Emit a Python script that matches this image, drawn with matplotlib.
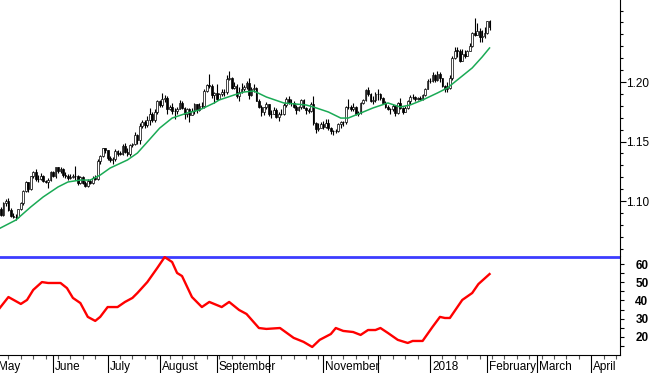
import numpy as np
import pandas as pd
import matplotlib
matplotlib.use('Agg')
import matplotlib.pyplot as plt
from matplotlib.transforms import blended_transform_factory

plt.rcParams['font.family'] = ['Liberation Sans', 'DejaVu Sans']

# daily bars, one per weekday from 2 May 2017 to 2 Feb 2018 (open = previous close)
first_open = 1.0899
closes = [
    # May
    1.0930, 1.0883, 1.0985, 1.0998, 1.0926, 1.0874, 1.0866, 1.0862, 1.0933, 1.0982, 1.1086,
    1.1158, 1.1101, 1.1206, 1.1243, 1.1183, 1.1184, 1.1211, 1.1164, 1.1163, 1.1176, 1.1242,
    # June
    1.1214, 1.1282, 1.1250, 1.1272, 1.1216, 1.1212, 1.1196, 1.1200, 1.1211, 1.1214, 1.1152,
    1.1198, 1.1150, 1.1130, 1.1167, 1.1150, 1.1196, 1.1187, 1.1338, 1.1375, 1.1442, 1.1426,
    # July
    1.1363, 1.1348, 1.1353, 1.1423, 1.1398, 1.1397, 1.1462, 1.1410, 1.1398, 1.1470, 1.1477,
    1.1556, 1.1516, 1.1633, 1.1665, 1.1642, 1.1684, 1.1733, 1.1677, 1.1750, 1.1843,
    # August
    1.1803, 1.1860, 1.1867, 1.1774, 1.1792, 1.1756, 1.1760, 1.1775, 1.1822, 1.1780, 1.1728,
    1.1772, 1.1724, 1.1760, 1.1812, 1.1762, 1.1797, 1.1799, 1.1923, 1.1979, 1.1970, 1.1888, 1.1910,
    # September
    1.1860, 1.1899, 1.1916, 1.1916, 1.2025, 1.2036, 1.1953, 1.1967, 1.1884, 1.1918, 1.1944,
    1.1955, 1.1992, 1.1891, 1.1941, 1.1950, 1.1844, 1.1793, 1.1747, 1.1786, 1.1814,
    # October
    1.1731, 1.1734, 1.1764, 1.1710, 1.1731, 1.1734, 1.1805, 1.1861, 1.1825, 1.1822, 1.1794,
    1.1767, 1.1787, 1.1850, 1.1783, 1.1761, 1.1760, 1.1812, 1.1652, 1.1606, 1.1611, 1.1646,
    # November
    1.1620, 1.1656, 1.1610, 1.1590, 1.1585, 1.1591, 1.1644, 1.1665, 1.1662, 1.1794, 1.1790,
    1.1771, 1.1794, 1.1733, 1.1740, 1.1822, 1.1850, 1.1931, 1.1896, 1.1843, 1.1847, 1.1902,
    # December
    1.1895, 1.1863, 1.1825, 1.1793, 1.1774, 1.1772, 1.1800, 1.1741, 1.1827, 1.1779, 1.1747,
    1.1783, 1.1839, 1.1874, 1.1873, 1.1860, 1.1867, 1.1858, 1.1890, 1.1944, 1.2005,
    # January
    1.2010, 1.2059, 1.2016, 1.2067, 1.2030, 1.1968, 1.1938, 1.1951, 1.2034, 1.2200, 1.2264,
    1.2263, 1.2180, 1.2237, 1.2219, 1.2260, 1.2301, 1.2408, 1.2398, 1.2427, 1.2381, 1.2387, 1.2414,
    # February
    1.2510, 1.2460,
]
highs = [
    1.0950, 1.0950, 1.0990, 1.1020, 1.1023, 1.0940, 1.0897, 1.0888, 1.0937, 1.0989, 1.1096,
    1.1172, 1.1162, 1.1213, 1.1250, 1.1268, 1.1216, 1.1232, 1.1216, 1.1179, 1.1195, 1.1251,
    1.1255, 1.1285, 1.1286, 1.1285, 1.1275, 1.1245, 1.1230, 1.1225, 1.1230, 1.1296, 1.1216,
    1.1212, 1.1210, 1.1168, 1.1185, 1.1185, 1.1210, 1.1215, 1.1350, 1.1389, 1.1445, 1.1446,
    1.1430, 1.1375, 1.1368, 1.1440, 1.1429, 1.1423, 1.1480, 1.1490, 1.1442, 1.1480, 1.1488,
    1.1583, 1.1562, 1.1658, 1.1683, 1.1680, 1.1712, 1.1778, 1.1745, 1.1776, 1.1846,
    1.1845, 1.1910, 1.1893, 1.1880, 1.1808, 1.1825, 1.1778, 1.1790, 1.1845, 1.1842, 1.1790,
    1.1780, 1.1778, 1.1780, 1.1821, 1.1818, 1.1820, 1.1830, 1.1940, 1.1983, 1.2070, 1.1980, 1.1918,
    1.1980, 1.1908, 1.1940, 1.1945, 1.2060, 1.2092, 1.2040, 1.1997, 1.1985, 1.1960, 1.1990,
    1.1975, 1.2005, 1.2035, 1.1960, 1.1985, 1.1955, 1.1855, 1.1810, 1.1790, 1.1832,
    1.1815, 1.1762, 1.1792, 1.1778, 1.1750, 1.1769, 1.1825, 1.1875, 1.1880, 1.1860, 1.1840,
    1.1808, 1.1799, 1.1860, 1.1860, 1.1790, 1.1785, 1.1830, 1.1880, 1.1660, 1.1655, 1.1667,
    1.1675, 1.1687, 1.1685, 1.1622, 1.1600, 1.1603, 1.1655, 1.1670, 1.1672, 1.1800, 1.1860,
    1.1808, 1.1820, 1.1795, 1.1760, 1.1836, 1.1860, 1.1940, 1.1960, 1.1905, 1.1880, 1.1915,
    1.1940, 1.1905, 1.1875, 1.1840, 1.1810, 1.1785, 1.1815, 1.1805, 1.1830, 1.1862, 1.1790,
    1.1800, 1.1845, 1.1890, 1.1900, 1.1885, 1.1875, 1.1880, 1.1900, 1.1950, 1.2025,
    1.2030, 1.2080, 1.2065, 1.2089, 1.2085, 1.2035, 1.1975, 1.2000, 1.2060, 1.2215, 1.2296,
    1.2295, 1.2280, 1.2275, 1.2270, 1.2265, 1.2325, 1.2420, 1.2537, 1.2495, 1.2450, 1.2440, 1.2460,
    1.2515, 1.2520,
]
lows = [
    1.0880, 1.0872, 1.0870, 1.0960, 1.0918, 1.0866, 1.0860, 1.0838, 1.0855, 1.0925, 1.0970,
    1.1075, 1.1074, 1.1095, 1.1195, 1.1166, 1.1160, 1.1177, 1.1160, 1.1151, 1.1110, 1.1165,
    1.1205, 1.1195, 1.1238, 1.1238, 1.1205, 1.1195, 1.1180, 1.1182, 1.1195, 1.1180, 1.1132,
    1.1145, 1.1145, 1.1120, 1.1118, 1.1140, 1.1145, 1.1180, 1.1178, 1.1315, 1.1370, 1.1405,
    1.1345, 1.1330, 1.1312, 1.1340, 1.1375, 1.1385, 1.1384, 1.1400, 1.1380, 1.1380, 1.1455,
    1.1470, 1.1479, 1.1480, 1.1615, 1.1612, 1.1620, 1.1640, 1.1660, 1.1667, 1.1730,
    1.1790, 1.1790, 1.1828, 1.1729, 1.1765, 1.1730, 1.1688, 1.1728, 1.1770, 1.1775, 1.1688,
    1.1710, 1.1662, 1.1720, 1.1735, 1.1740, 1.1756, 1.1780, 1.1785, 1.1918, 1.1950, 1.1868, 1.1823,
    1.1850, 1.1855, 1.1880, 1.1885, 1.1900, 1.2020, 1.1945, 1.1945, 1.1866, 1.1838, 1.1905,
    1.1925, 1.1940, 1.1861, 1.1880, 1.1920, 1.1838, 1.1780, 1.1718, 1.1720, 1.1770,
    1.1716, 1.1696, 1.1730, 1.1700, 1.1669, 1.1720, 1.1720, 1.1790, 1.1815, 1.1800, 1.1785,
    1.1730, 1.1755, 1.1770, 1.1780, 1.1728, 1.1738, 1.1745, 1.1640, 1.1575, 1.1590, 1.1620,
    1.1608, 1.1615, 1.1600, 1.1560, 1.1553, 1.1570, 1.1580, 1.1617, 1.1630, 1.1650, 1.1775,
    1.1760, 1.1760, 1.1720, 1.1715, 1.1730, 1.1815, 1.1840, 1.1880, 1.1830, 1.1815, 1.1835,
    1.1845, 1.1845, 1.1820, 1.1780, 1.1765, 1.1730, 1.1760, 1.1718, 1.1730, 1.1770, 1.1730,
    1.1745, 1.1770, 1.1818, 1.1855, 1.1840, 1.1850, 1.1845, 1.1850, 1.1885, 1.1940,
    1.1995, 1.2000, 1.2000, 1.2010, 1.2000, 1.1955, 1.1915, 1.1918, 1.1945, 1.2020, 1.2195,
    1.2210, 1.2165, 1.2175, 1.2205, 1.2215, 1.2260, 1.2290, 1.2390, 1.2395, 1.2335, 1.2336, 1.2370,
    1.2400, 1.2436,
]

# moving average (green), read at bar positions
ma_pos = [1, 8, 14, 19, 25, 29, 34, 38, 42, 46, 53, 57, 61, 66, 71, 77, 82, 88, 90, 96,
          100, 104, 109, 116, 125, 128, 134, 139, 142, 147, 152, 158, 163, 167, 172, 178,
          182, 187, 192, 196, 199]
ma_val = [1.0765, 1.0840, 1.0950, 1.1034, 1.1118, 1.1160, 1.1176, 1.1176, 1.1218, 1.1277,
          1.1345, 1.1403, 1.1496, 1.1613, 1.1697, 1.1739, 1.1765, 1.1824, 1.1849, 1.1891,
          1.1916, 1.1924, 1.1874, 1.1824, 1.1807, 1.1790, 1.1748, 1.1697, 1.1697, 1.1739,
          1.1782, 1.1824, 1.1790, 1.1807, 1.1849, 1.1908, 1.1950, 1.2034, 1.2118, 1.2210, 1.2286]

# lower oscillator (red)
osc_pos = [1, 5, 10, 12.5, 15, 18.5, 21, 26, 28.6, 31, 34, 37, 40, 42, 45, 49, 52, 55, 57,
           61, 65, 68, 71, 73, 75, 79, 83, 86, 91, 94, 98, 101, 106, 109, 114.5, 120, 124,
           127.5, 130.5, 135, 137, 140, 144, 147, 150, 153, 155, 158, 162, 166, 168, 172,
           176, 179, 181, 183, 188, 192, 194.5, 199]
osc_val = [35.0, 41.9, 38.1, 40.3, 45.8, 50.1, 49.6, 49.6, 46.8, 41.4, 38.6, 31.0, 28.8,
           31.0, 36.4, 36.4, 39.2, 41.4, 44.1, 50.1, 57.8, 63.8, 61.1, 55.1, 53.4, 41.9,
           36.4, 39.2, 36.4, 39.2, 34.8, 32.6, 24.9, 24.4, 24.9, 19.5, 17.3, 14.5, 18.4,
           21.6, 24.9, 23.3, 22.7, 21.1, 23.8, 23.8, 24.9, 22.2, 18.4, 16.7, 17.8, 17.8,
           25.5, 31.0, 30.4, 30.4, 40.3, 44.1, 49.0, 54.5]
osc_level = 64

month_labels = ['May', 'June', 'July', 'August', 'September', '', 'November', '',
                '2018', 'February', 'March', 'April']

# trading-day axis
days = pd.bdate_range('2017-05-01', '2018-04-30')
month_start = [i for i in range(len(days)) if i == 0 or days[i].month != days[i - 1].month]
mondays = [i for i in range(len(days)) if days[i].dayofweek == 0]

x = np.arange(1, len(closes) + 1)
closes_a = np.array(closes)
opens_a = np.array([first_open] + closes[:-1])
highs_a = np.array(highs)
lows_a = np.array(lows)

fig = plt.figure(figsize=(6.5, 3.73), dpi=100)
ax1 = fig.add_axes([0, 1 - 256 / 373, 620 / 650, 256 / 373])
ax2 = fig.add_axes([0, 1 - 355 / 373, 620 / 650, 99 / 373])

xmin, xmax = 1.6, 251.6

# candles
up = closes_a >= opens_a
ax1.vlines(x, lows_a, highs_a, color='black', linewidth=0.8, zorder=2)
body_bot = np.minimum(opens_a, closes_a)
body_h = np.maximum(np.abs(closes_a - opens_a), 0.0003)
ax1.bar(x[up], body_h[up], bottom=body_bot[up], width=0.7, facecolor='white',
        edgecolor='black', linewidth=0.5, zorder=3)
ax1.bar(x[~up], body_h[~up], bottom=body_bot[~up], width=0.7, facecolor='black',
        edgecolor='black', linewidth=0.5, zorder=3)
ax1.plot(ma_pos, ma_val, color='#1aaa55', linewidth=1.1, zorder=4)

for s in ['top', 'left', 'bottom']:
    ax1.spines[s].set_visible(False)
ax1.spines['right'].set_linewidth(0.8)
ax1.set_xticks([])
ax1.yaxis.tick_right()
ax1.set_yticks([1.10, 1.15, 1.20])
ax1.set_yticklabels(['1.10', '1.15', '1.20'])
ax1.set_yticks(np.arange(1.06, 1.265, 0.01), minor=True)
ax1.tick_params(axis='y', which='major', length=4, width=0.8, pad=0.5, labelsize=8.5)
ax1.tick_params(axis='y', which='minor', length=2.5, width=0.8)
ax1.set_xlim(xmin, xmax)
ax1.set_ylim(1.0538, 1.2689)

# lower panel
ax2.axhline(osc_level, color='#3c3cff', linewidth=2, zorder=2)
ax2.plot(osc_pos, osc_val, color='#ff0000', linewidth=1.7, zorder=3)
for s in ['top', 'left']:
    ax2.spines[s].set_visible(False)
ax2.spines['right'].set_linewidth(0.8)
ax2.spines['bottom'].set_linewidth(0.8)
ax2.yaxis.tick_right()
ax2.set_yticks([20, 30, 40, 50, 60])
ax2.set_yticklabels(['20', '30', '40', '50', '60'], fontweight='bold')
ax2.set_yticks(np.arange(15, 65, 5), minor=True)
ax2.tick_params(axis='y', which='major', length=3, width=0.8, pad=8, labelsize=8.5)
ax2.tick_params(axis='y', which='minor', length=3, width=0.8)

ax2.set_xticks(month_start)
ax2.set_xticklabels([])
ax2.set_xticks(mondays, minor=True)
ax2.tick_params(axis='x', which='major', length=13, width=0.8, direction='out')
ax2.tick_params(axis='x', which='minor', length=3, width=0.8, color='#555555')
ax2.set_xlim(xmin, xmax)
ax2.set_ylim(10.1, 64.4)

trans = blended_transform_factory(ax2.transData, ax2.transAxes)
for pos, lab in zip(month_start, month_labels):
    if lab:
        ax2.annotate(lab, xy=(pos, 0), xycoords=trans, xytext=(1.5, -8.5),
                     textcoords='offset points', ha='left', va='center',
                     fontsize=8.5, annotation_clip=False)

fig.savefig('out.png', dpi=100)
